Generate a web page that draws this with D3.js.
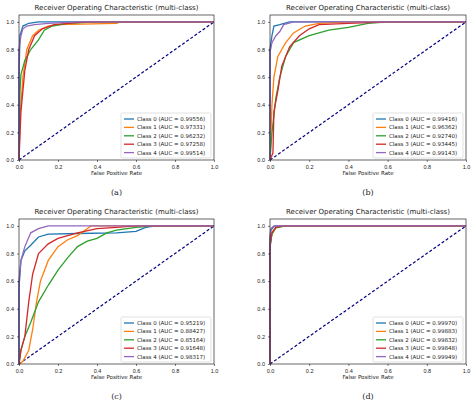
<!DOCTYPE html>
<html><head><meta charset="utf-8">
<script src="https://cdn.jsdelivr.net/npm/d3@7"></script>
<style>body{margin:0;background:#fff}svg{font-family:"DejaVu Sans",sans-serif}</style>
</head><body><svg id="chart" width="474" height="402"></svg>
<script>

const classNames = ['Class 0','Class 1','Class 2','Class 3','Class 4'];
const classColors = ['#1f77b4','#ff7f0e','#2ca02c','#d62728','#9467bd'];
const panelLabels = ['(a)','(b)','(c)','(d)'];
const xTicks = [0,0.2,0.4,0.6,0.8,1.0];
const yTicks = [0,0.2,0.4,0.6,0.8,1.0];

const aucA = ['0.99556','0.97331','0.96232','0.97258','0.99514'];
const aucB = ['0.99416','0.96362','0.92740','0.93445','0.99143'];
const aucC = ['0.95219','0.88427','0.85164','0.91648','0.98317'];
const aucD = ['0.99970','0.99883','0.99832','0.99848','0.99949'];

// roc points [fpr, tpr] per class
const rocA = [
  [[0,0],[0,0.6],[0.005,0.9],[0.02,0.97],[0.05,0.99],[0.1,1],[1,1]],
  [[0,0],[0.005,0.3],[0.02,0.6],[0.04,0.8],[0.07,0.9],[0.1,0.94],[0.15,0.97],[0.2,0.98],[0.5,0.99],[0.52,1],[1,1]],
  [[0,0],[0.005,0.5],[0.01,0.62],[0.03,0.72],[0.06,0.8],[0.1,0.87],[0.13,0.94],[0.17,0.97],[0.25,0.99],[0.4,1],[1,1]],
  [[0,0],[0.01,0.35],[0.03,0.65],[0.05,0.8],[0.08,0.9],[0.12,0.95],[0.18,0.98],[0.25,0.99],[0.35,1],[1,1]],
  [[0,0],[0,0.8],[0.01,0.9],[0.02,0.95],[0.04,0.97],[0.08,0.98],[0.15,0.99],[0.3,1],[1,1]]
];
const rocB = [
  [[0,0],[0,0.8],[0.01,0.9],[0.02,0.97],[0.05,0.98],[0.1,1],[1,1]],
  [[0,0],[0.01,0.4],[0.02,0.6],[0.04,0.75],[0.08,0.85],[0.12,0.92],[0.18,0.97],[0.25,0.99],[0.4,1],[1,1]],
  [[0,0],[0.01,0.2],[0.03,0.45],[0.05,0.6],[0.08,0.75],[0.12,0.85],[0.2,0.9],[0.3,0.94],[0.4,0.96],[0.5,0.99],[0.6,1],[1,1]],
  [[0,0],[0.015,0.05],[0.02,0.35],[0.04,0.5],[0.06,0.68],[0.1,0.82],[0.15,0.9],[0.2,0.95],[0.25,0.98],[0.4,0.99],[0.6,1],[1,1]],
  [[0,0],[0,0.78],[0.01,0.85],[0.03,0.9],[0.05,0.93],[0.07,0.98],[0.12,1],[1,1]]
];
const rocC = [
  [[0,0],[0,0.55],[0.01,0.75],[0.03,0.82],[0.06,0.86],[0.1,0.92],[0.15,0.94],[0.3,0.945],[0.5,0.95],[0.6,0.96],[0.65,0.99],[0.7,1],[1,1]],
  [[0,0],[0.02,0.02],[0.05,0.1],[0.07,0.25],[0.09,0.45],[0.11,0.6],[0.15,0.75],[0.2,0.85],[0.25,0.9],[0.3,0.93],[0.35,0.98],[0.37,1],[1,1]],
  [[0,0],[0.01,0.1],[0.03,0.2],[0.06,0.3],[0.1,0.45],[0.15,0.57],[0.2,0.68],[0.25,0.77],[0.3,0.85],[0.35,0.89],[0.4,0.91],[0.45,0.95],[0.5,0.97],[0.6,0.99],[0.7,1],[1,1]],
  [[0,0],[0.01,0.1],[0.03,0.2],[0.05,0.45],[0.07,0.65],[0.1,0.8],[0.15,0.87],[0.2,0.91],[0.3,0.95],[0.4,0.98],[0.5,0.99],[0.6,1],[1,1]],
  [[0,0],[0,0.6],[0.01,0.75],[0.03,0.85],[0.06,0.95],[0.1,0.98],[0.15,1],[1,1]]
];
const rocD = [
  [[0,0],[0,0.9],[0.005,0.97],[0.02,0.995],[0.04,1],[1,1]],
  [[0,0],[0,0.85],[0.01,0.95],[0.03,0.99],[0.07,1],[1,1]],
  [[0,0],[0,0.84],[0.01,0.94],[0.03,0.985],[0.08,1],[1,1]],
  [[0,0],[0,0.86],[0.01,0.95],[0.03,0.99],[0.07,1],[1,1]],
  [[0,0],[0,0.92],[0.005,0.98],[0.02,1],[1,1]]
];

const panels = [
  {roc: rocA, auc: aucA, left: 19, top: 15, w: 195},
  {roc: rocB, auc: aucB, left: 270, top: 15, w: 196},
  {roc: rocC, auc: aucC, left: 19, top: 219, w: 195},
  {roc: rocD, auc: aucD, left: 270, top: 219, w: 196}
];

const svg = d3.select('#chart');

const drawPanel = function(p, idx){
  const h = 145;
  const g = svg.append('g').attr('transform', `translate(${p.left},${p.top})`);
  const x = d3.scaleLinear().domain([0,1]).range([0,p.w]);
  const y = d3.scaleLinear().domain([0,1.05]).range([h,0]);

  const line = d3.line().x(d => x(d[0])).y(d => y(d[1]));

  g.append('line')
    .attr('x1', x(0)).attr('y1', y(0)).attr('x2', x(1)).attr('y2', y(1))
    .attr('stroke','#000080').attr('stroke-width',1.2).attr('stroke-dasharray','3,2');

  p.roc.forEach((pts,i) => {
    g.append('path').attr('d', line(pts)).attr('fill','none')
      .attr('stroke', classColors[i]).attr('stroke-width',1.3);
  });

  g.append('rect').attr('width',p.w).attr('height',h)
    .attr('fill','none').attr('stroke','#000').attr('stroke-width',0.6);

  const xa = g.append('g').attr('transform',`translate(0,${h})`)
    .call(d3.axisBottom(x).tickValues(xTicks).tickFormat(d3.format('.1f')).tickSize(2));
  const ya = g.append('g')
    .call(d3.axisLeft(y).tickValues(yTicks).tickFormat(d3.format('.1f')).tickSize(2));
  [xa, ya].forEach(a => {
    a.select('.domain').remove();
    a.selectAll('text').attr('font-size',5.5).attr('fill','#222');
    a.selectAll('line').attr('stroke','#000').attr('stroke-width',0.5);
  });

  g.append('text').attr('x',p.w/2).attr('y',-5).attr('text-anchor','middle')
    .attr('font-size',7).attr('fill','#222').text('Receiver Operating Characteristic (multi-class)');
  g.append('text').attr('x',p.w/2).attr('y',h+14.5).attr('text-anchor','middle')
    .attr('font-size',5.5).attr('fill','#222').text('False Positive Rate');
  g.append('text').attr('x',p.w/2).attr('y',h+35).attr('text-anchor','middle')
    .attr('font-family','"DejaVu Serif",serif').attr('font-size',8).attr('fill','#222')
    .text(panelLabels[idx]);

  // legend
  const lw = 90, lh = 45;
  const lg = g.append('g').attr('transform',`translate(${p.w-lw-3},${h-lh-2})`);
  lg.append('rect').attr('width',lw).attr('height',lh).attr('rx',1.5)
    .attr('fill','#fff').attr('stroke','#ccc').attr('stroke-width',0.6);
  classNames.forEach((c,i) => {
    const yy = 6 + i*8.4;
    lg.append('line').attr('x1',3).attr('x2',13).attr('y1',yy).attr('y2',yy)
      .attr('stroke',classColors[i]).attr('stroke-width',1.3);
    lg.append('text').attr('x',16).attr('y',yy+2).attr('font-size',5.5).attr('fill','#222')
      .text(`${c} (AUC = ${p.auc[i]})`);
  });
};

panels.forEach(drawPanel);
</script></body></html>
